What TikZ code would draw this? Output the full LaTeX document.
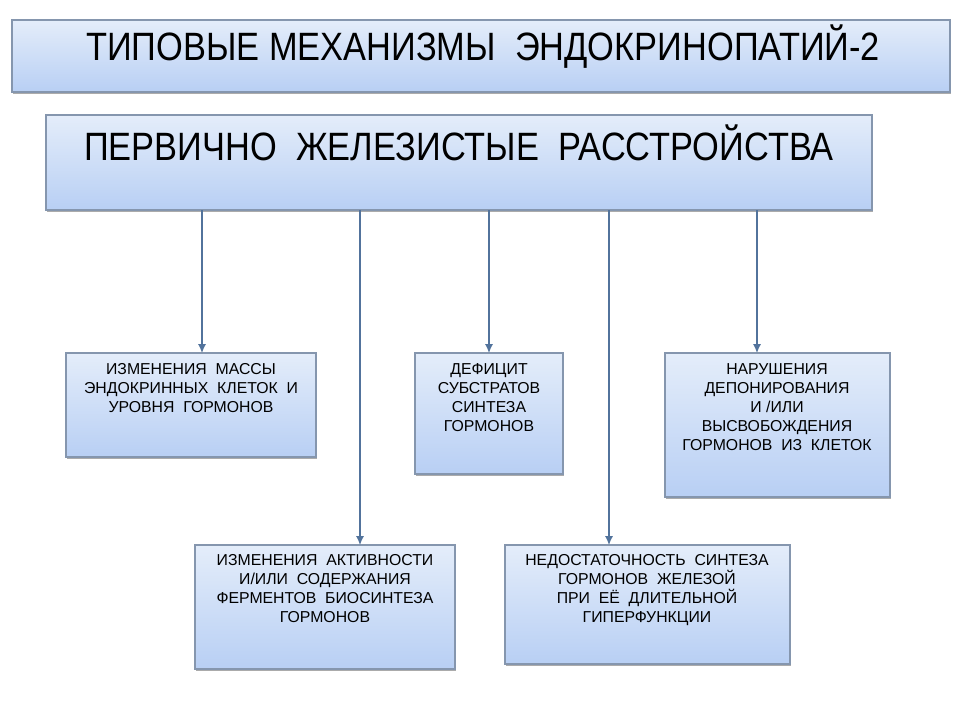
\documentclass[tikz,border=0pt]{standalone}
\usepackage{fontspec}
\setmainfont{Liberation Sans}
\newfontfamily\narrowfont[FakeStretch=0.87]{Liberation Sans}
\usetikzlibrary{arrows.meta,shadows}
\definecolor{boxtop}{HTML}{E4EDFA}
\definecolor{boxbot}{HTML}{B8CFF4}
\definecolor{boxline}{HTML}{8596AE}
\definecolor{arrowcol}{HTML}{52739C}
\newcommand{\ws}{\ \ }
\tikzset{
  pbox/.style={draw=boxline, line width=0.6pt, top color=boxtop, bottom color=boxbot,
    drop shadow={shadow xshift=0.4pt, shadow yshift=-1.2pt, opacity=0.55, fill=black!60}},
  btext/.style={anchor=north, align=center, font=\fontsize{9}{10.9}\selectfont, inner sep=0pt},
  conn/.style={draw=arrowcol, line width=0.7pt, -{Latex[length=5pt,width=4.5pt]}}
}
\begin{document}
\begin{tikzpicture}[x=0.02cm,y=-0.02cm]
\useasboundingbox (0,0) rectangle (960,720);
% title
\path[pbox] (12,20) rectangle (950,92);
\node[inner sep=0pt, font=\narrowfont\fontsize{22.5}{26}\selectfont] (title) at (483,47) {ТИПОВЫЕ МЕХАНИЗМЫ\ws ЭНДОКРИНОПАТИЙ-2};
% main box
\path[pbox] (46,115) rectangle (872,210);
\node[inner sep=0pt, font=\narrowfont\fontsize{22.5}{26}\selectfont] (main) at (459,143) {ПЕРВИЧНО\ws ЖЕЛЕЗИСТЫЕ\ws РАССТРОЙСТВА};
% boxes
\path[pbox] (66,353) rectangle (316,457);
\path[pbox] (415,353) rectangle (563,474);
\path[pbox] (665,353) rectangle (890,497);
\path[pbox] (195,545) rectangle (455,669);
\path[pbox] (505,545) rectangle (790,664);
\node[btext] (a) at (191,363) {ИЗМЕНЕНИЯ\ws МАССЫ\\ЭНДОКРИННЫХ\ws КЛЕТОК\ws И\\УРОВНЯ\ws ГОРМОНОВ};
\node[btext] (b) at (489,363) {ДЕФИЦИТ\\СУБСТРАТОВ\\СИНТЕЗА\\ГОРМОНОВ};
\node[btext] (c) at (777,363) {НАРУШЕНИЯ\\ДЕПОНИРОВАНИЯ\\И /ИЛИ\\ВЫСВОБОЖДЕНИЯ\\ГОРМОНОВ\ws ИЗ\ws КЛЕТОК};
\node[btext] (d) at (325,554) {ИЗМЕНЕНИЯ\ws АКТИВНОСТИ\\И/ИЛИ\ws СОДЕРЖАНИЯ\\ФЕРМЕНТОВ\ws БИОСИНТЕЗА\\ГОРМОНОВ};
\node[btext] (e) at (647,554) {НЕДОСТАТОЧНОСТЬ\ws СИНТЕЗА\\ГОРМОНОВ\ws ЖЕЛЕЗОЙ\\ПРИ\ws ЕЁ\ws ДЛИТЕЛЬНОЙ\\ГИПЕРФУНКЦИИ};
% connectors
\coordinate (s1) at (202,210); \coordinate (t1) at (202,353);
\coordinate (s2) at (360,210); \coordinate (t2) at (360,545);
\coordinate (s3) at (489,210); \coordinate (t3) at (489,353);
\coordinate (s4) at (609,210); \coordinate (t4) at (609,545);
\coordinate (s5) at (757,210); \coordinate (t5) at (757,353);
\draw[conn] (s1) -- (t1);
\draw[conn] (s2) -- (t2);
\draw[conn] (s3) -- (t3);
\draw[conn] (s4) -- (t4);
\draw[conn] (s5) -- (t5);
\end{tikzpicture}
\end{document}
